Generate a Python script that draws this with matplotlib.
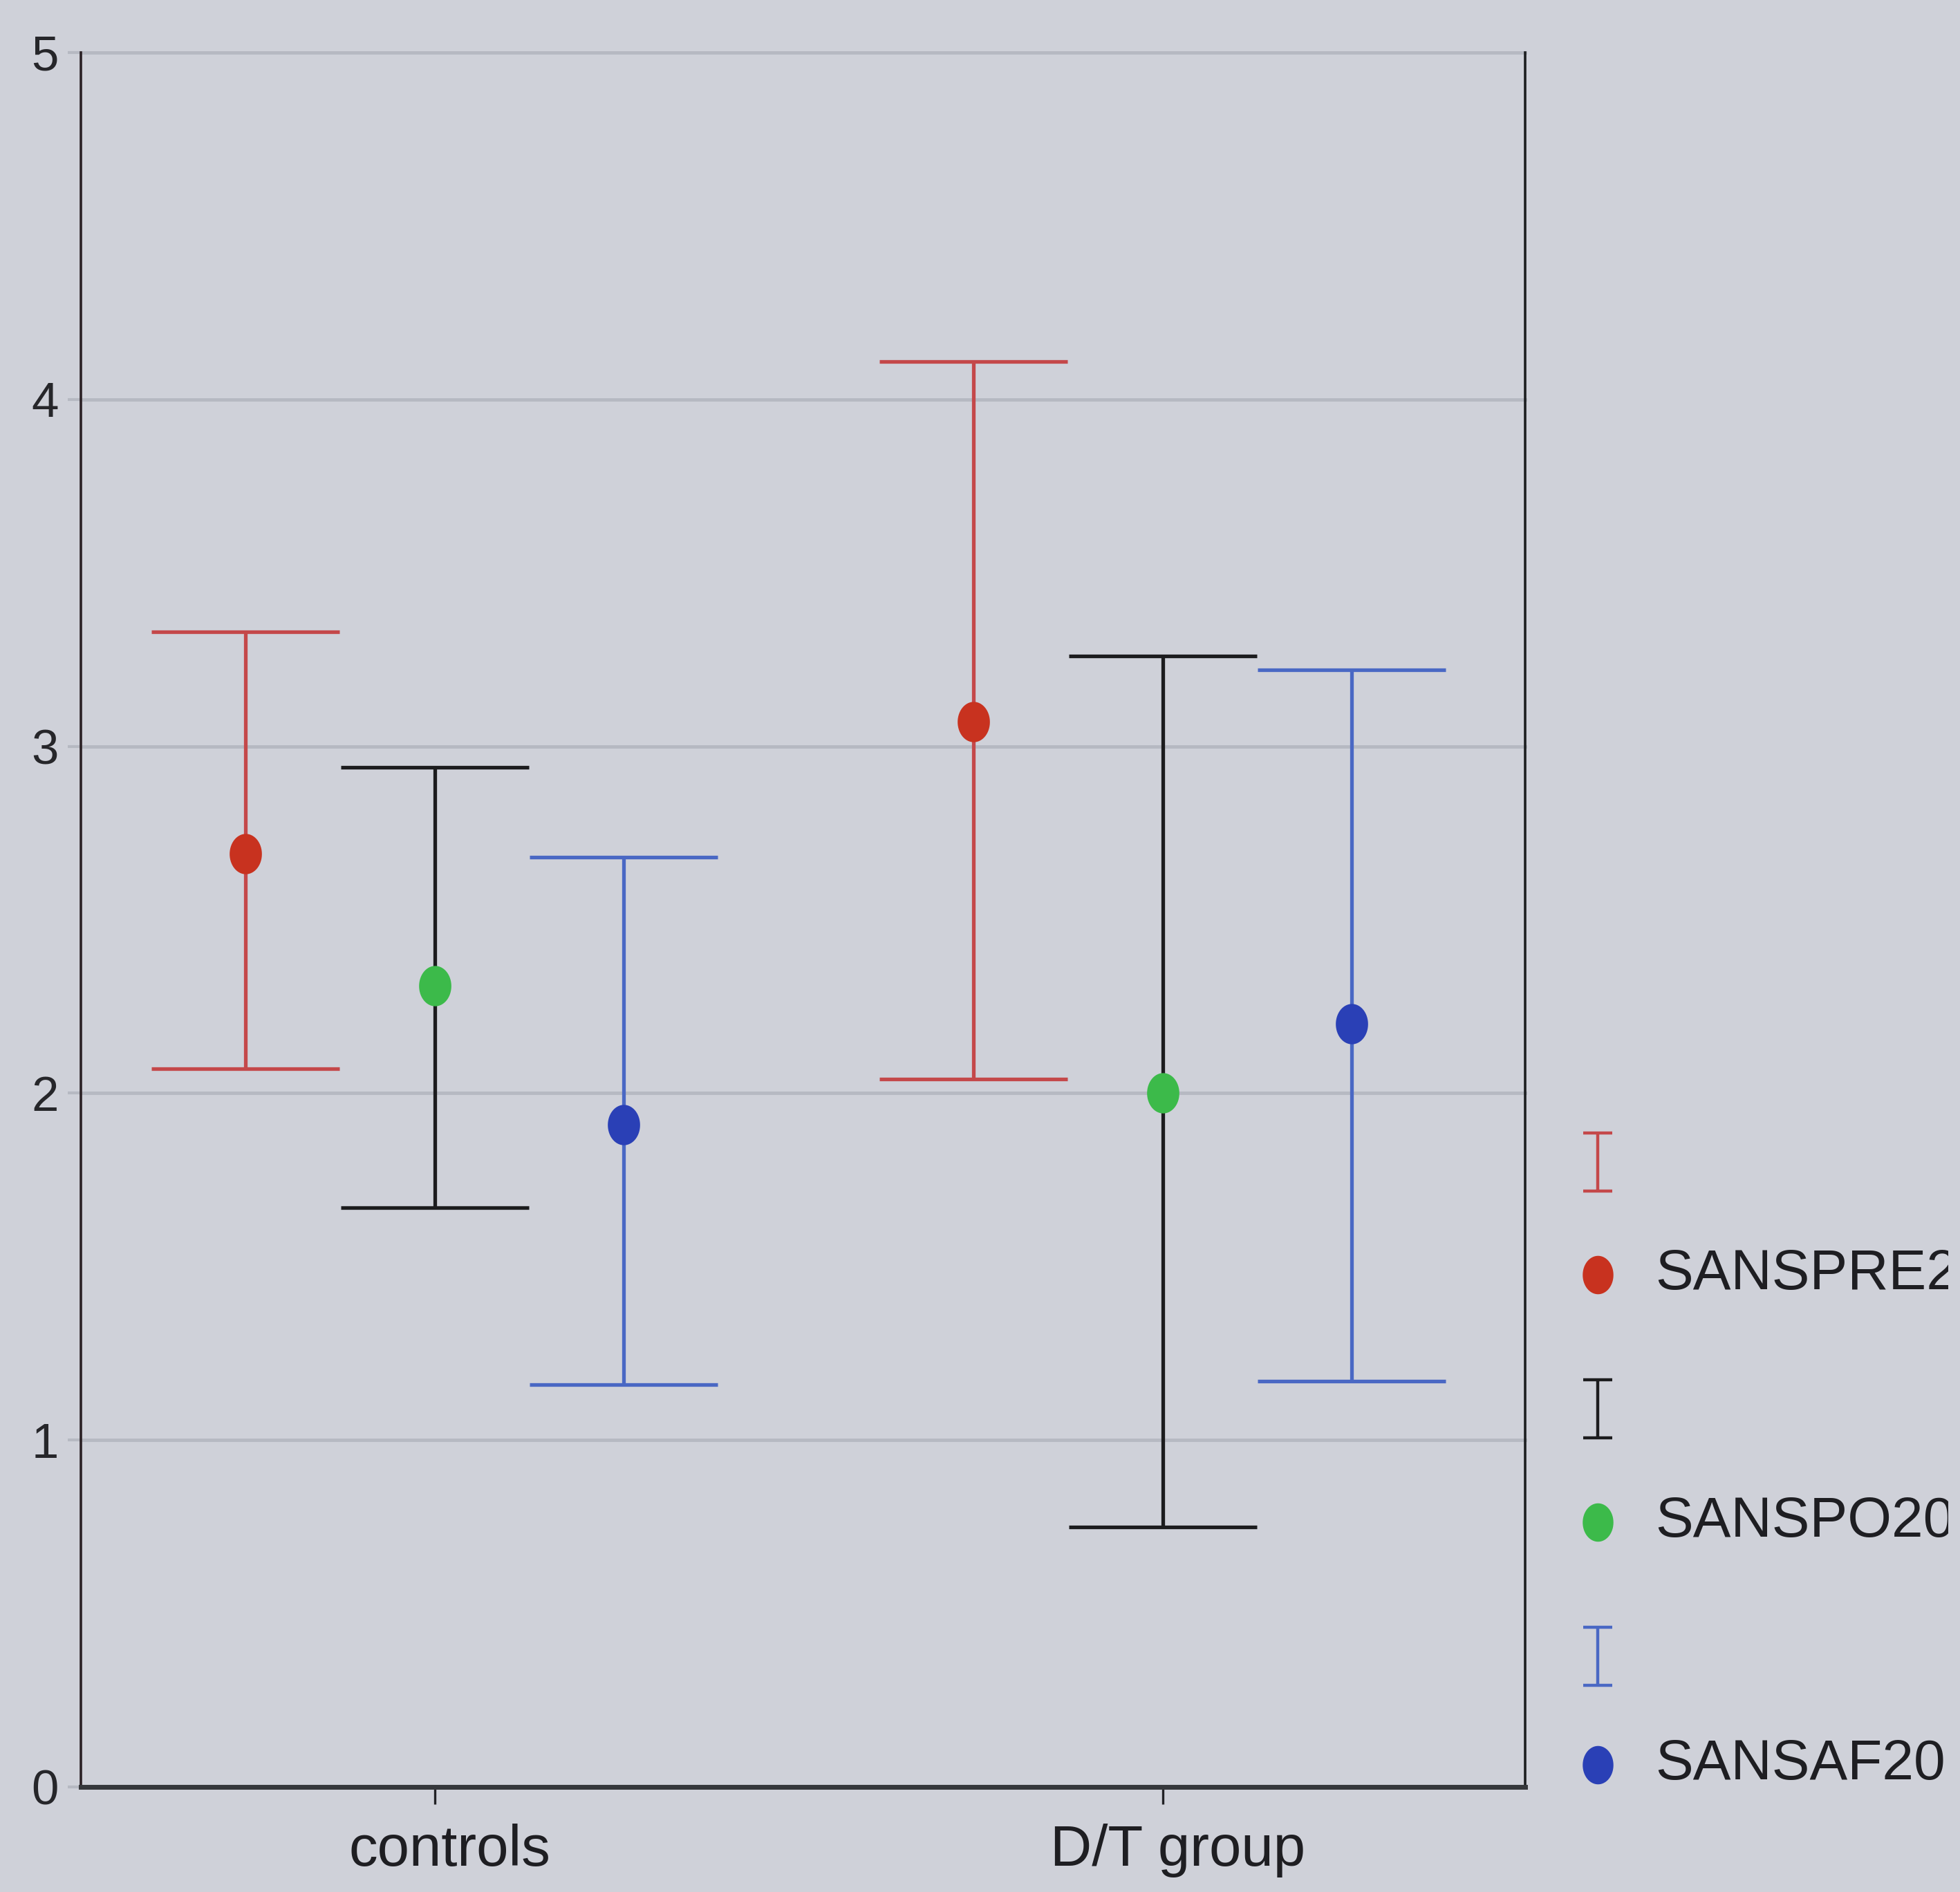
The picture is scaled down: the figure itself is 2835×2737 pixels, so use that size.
import matplotlib
matplotlib.use("Agg")
import matplotlib.pyplot as plt
from matplotlib.path import Path
from matplotlib.transforms import Bbox, ScaledTranslation
import numpy as np

# Group means with lower / upper interval bounds
groups = ["controls", "D/T group"]
series = ["SANSPRE20", "SANSPO20", "SANSAF20"]

pre_mean = [2.69, 3.07]
pre_low = [2.07, 2.04]
pre_high = [3.33, 4.11]

po_mean = [2.31, 2.00]
po_low = [1.67, 0.75]
po_high = [2.94, 3.26]

af_mean = [1.91, 2.20]
af_low = [1.16, 1.17]
af_high = [2.68, 3.22]

yticks = [0, 1, 2, 3, 4, 5]

BG = "#cfd1d9"
GRID = "#b6b9c2"
bar_colors = ["#c4484a", "#1c1c1e", "#4a68c4"]
dot_colors = ["#c8321f", "#3cba4a", "#2a40b6"]
FONT = "Liberation Sans"

# slightly tall oval marker
theta = np.linspace(0, 2 * np.pi, 60)
oval = Path(np.column_stack([0.8 * np.cos(theta), np.sin(theta)]))

W, H = 2835, 2737
fig = plt.figure(figsize=(W / 100, H / 100), dpi=100, facecolor=BG)
ax = fig.add_axes([117 / W, 1 - 2585 / H, (2206 - 117) / W, (2585 - 76) / H])
ax.set_facecolor(BG)

x = np.arange(1, len(groups) + 1)
offset = 0.26
all_series = [
    (pre_mean, pre_low, pre_high),
    (po_mean, po_low, po_high),
    (af_mean, af_low, af_high),
]
for i, (m, lo, hi) in enumerate(all_series):
    m = np.array(m)
    yerr = np.vstack([m - np.array(lo), np.array(hi) - m])
    xs = x + (i - 1) * offset
    ax.errorbar(xs, m, yerr=yerr, fmt="none", ecolor=bar_colors[i],
                elinewidth=3.8, capsize=98, capthick=3.8, zorder=3)
    ax.plot(xs, m, linestyle="none", marker=oval, color=dot_colors[i],
            markersize=42, markeredgewidth=0, zorder=4)

ax.set_xlim(0.514, 2.498)
ax.set_ylim(0, 5)
ax.set_yticks(yticks)
ax.set_yticklabels([str(t) for t in yticks], fontsize=51, family=FONT,
                   color="#26262a")
ax.set_xticks(x)
ax.set_xticklabels(groups, fontsize=60, family=FONT, color="#1e1e22")
ax.tick_params(axis="y", length=14, width=3, color=GRID, pad=9)
ax.tick_params(axis="x", length=18, width=2.4, color="#222226", pad=20)
shift = ScaledTranslation(0.22, 0, fig.dpi_scale_trans)
for lab in ax.get_xticklabels():
    lab.set_transform(lab.get_transform() + shift)

ax.yaxis.grid(True, color=GRID, linewidth=3.5)
ax.set_axisbelow(True)
for gl in ax.get_ygridlines():
    gl.set_clip_on(False)

ax.spines["top"].set_visible(False)
ax.spines["left"].set_color("#2a2024")
ax.spines["left"].set_linewidth(2.6)
ax.spines["right"].set_color("#1c1e20")
ax.spines["right"].set_linewidth(2.6)
ax.spines["bottom"].set_color("#35373b")
ax.spines["bottom"].set_linewidth(5)

# Legend drawn in figure pixel coordinates
leg = fig.add_axes([0, 0, 1, 1])
leg.set_xlim(0, W)
leg.set_ylim(H, 0)
leg.axis("off")
leg.patch.set_alpha(0)

ibar = Path([(-0.5, -1), (0.5, -1), (0, -1), (0, 1), (-0.5, 1), (0.5, 1)],
            [Path.MOVETO, Path.LINETO, Path.MOVETO, Path.LINETO,
             Path.MOVETO, Path.LINETO])
icon_x = 2311
text_x = 2394
bar_rows = [1681, 2038, 2396]
dot_rows = [1844, 2202, 2553]
# the legend column is narrower than its labels
clip = Bbox.from_extents(0, 0, 2818, H)
for i, name in enumerate(series):
    leg.plot([icon_x], [bar_rows[i]], linestyle="none", marker=ibar,
             markersize=60, markerfacecolor="none",
             markeredgecolor=bar_colors[i], markeredgewidth=3.2)
    leg.plot([icon_x], [dot_rows[i]], linestyle="none", marker=oval,
             color=dot_colors[i], markersize=40, markeredgewidth=0)
    t = leg.text(text_x, dot_rows[i], name, fontsize=59, family=FONT,
                 color="#1e1e22", va="center", ha="left")
    t.set_clip_box(clip)
    t.set_clip_on(True)

fig.savefig("out.png", dpi=100, facecolor=BG)
